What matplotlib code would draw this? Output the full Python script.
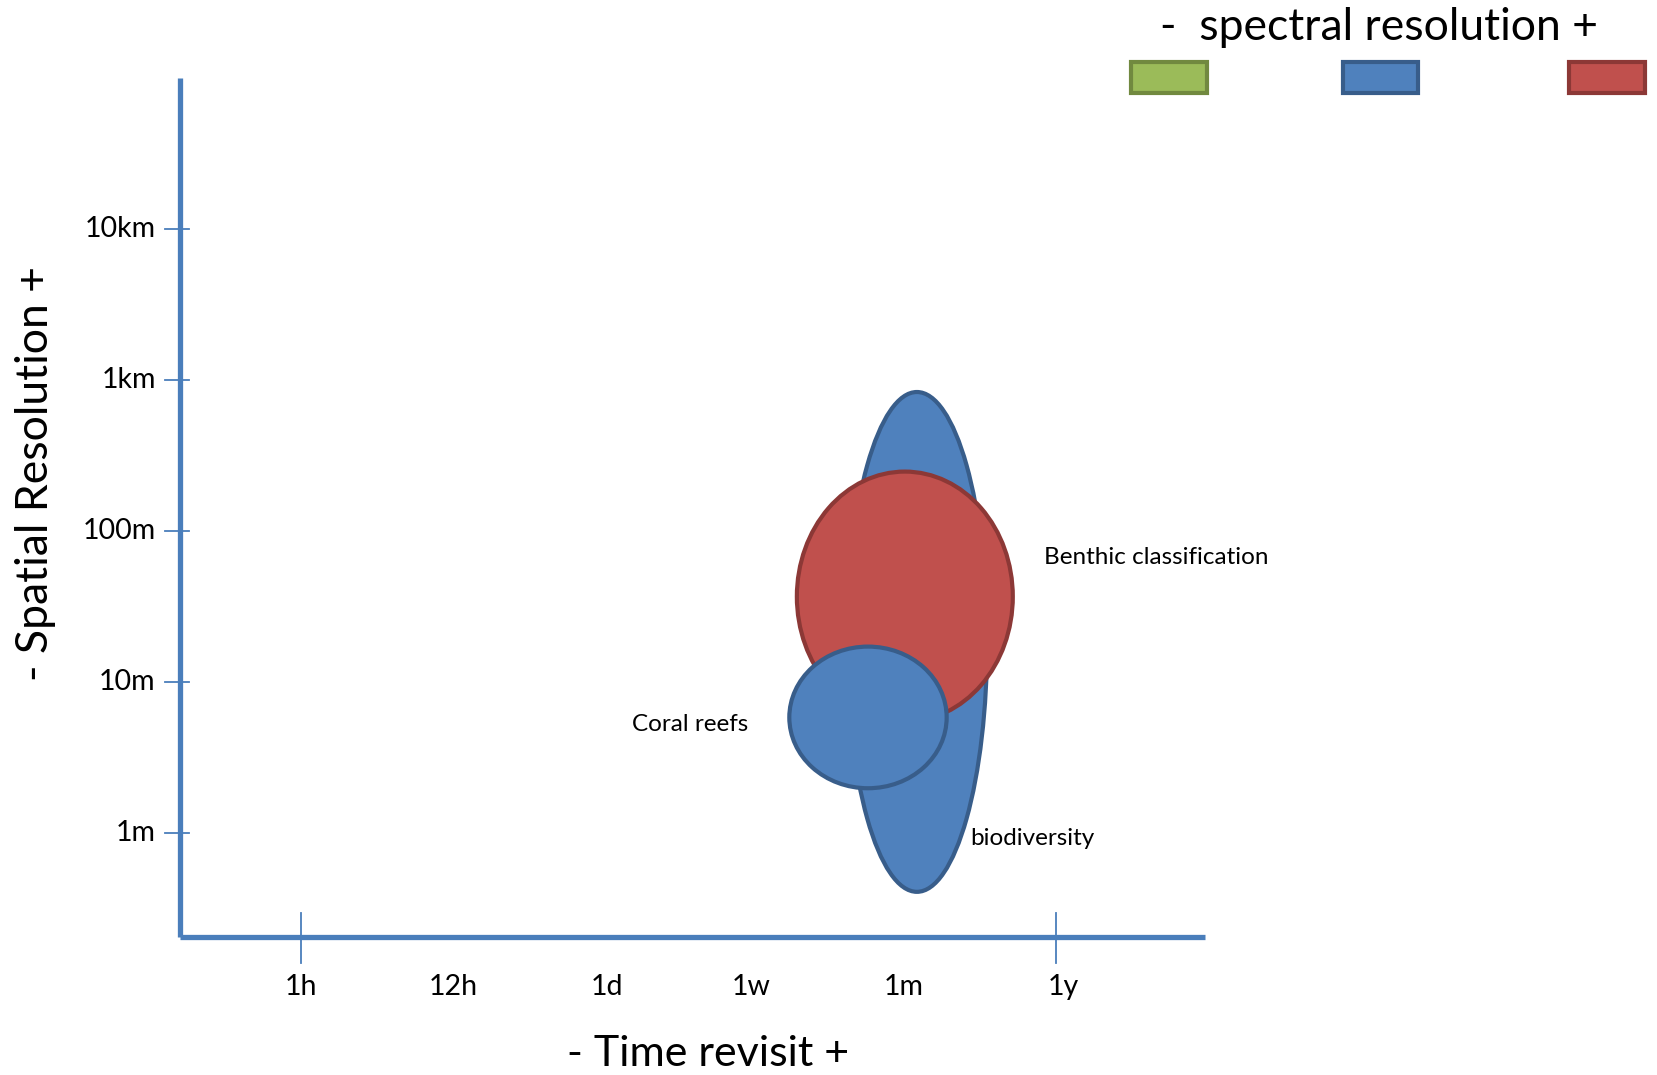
import matplotlib
matplotlib.use("Agg")
import matplotlib.pyplot as plt
from matplotlib.patches import Ellipse, Rectangle

plt.rcParams['font.family'] = ['Lato', 'DejaVu Sans']

# time revisit axis (x), positions in axis units
time_labels = ['1h', '12h', '1d', '1w', '1m', '1y']
time_pos = [0.80, 1.81, 2.83, 3.78, 4.79, 5.85]
time_ticks = [0.80, 5.80]  # only 1h and 1y carry a tick mark

# spatial resolution axis (y), log10 of metres
space_labels = ['1m', '10m', '100m', '1km', '10km']
space_pos = [0, 1, 2, 3, 4]

# applications drawn as ellipses (centre, size in axis units)
apps = ['biodiversity', 'Benthic classification', 'Coral reefs']
app_x = [4.88, 4.80, 4.556]
app_y = [1.264, 1.564, 0.764]
app_w = [0.93, 1.43, 1.042]
app_h = [3.31, 1.656, 0.938]
app_kind = ['blue', 'red', 'blue']

# legend for spectral resolution
spectral = ['green', 'blue', 'red']
fills = {'green': '#9BBB59', 'blue': '#4F81BD', 'red': '#C0504D'}
edges = {'green': '#71893F', 'blue': '#385D8A', 'red': '#8C3836'}
axis_col = '#4A7EBB'

fig = plt.figure(figsize=(16.57, 10.75), dpi=100)
ax = fig.add_axes([0, 0, 1, 1])
ax.set_xlim(-1.192, 9.781)
ax.set_ylim(-1.604, 5.515)
ax.axis('off')

# axes lines
ax.plot([0, 0], [-0.69, 5.0], color=axis_col, lw=3.8, solid_capstyle='butt')
ax.plot([0, 6.79], [-0.69, -0.69], color=axis_col, lw=3.8, solid_capstyle='butt')

for yp, lab in zip(space_pos, space_labels):
    ax.plot([-0.1, 0.06], [yp, yp], color=axis_col, lw=1.3)
    ax.text(-0.16, yp, lab, ha='right', va='center', fontsize=20.5)

for xp in time_ticks:
    ax.plot([xp, xp], [-0.53, -0.86], color=axis_col, lw=1.3)
for xp, lab in zip(time_pos, time_labels):
    ax.text(xp, -1.02, lab, ha='center', va='center', fontsize=20.5)

ax.text(3.50, -1.465, '- Time revisit +', ha='center', va='center', fontsize=31)
ax.text(-0.96, 2.38, '- Spatial Resolution +', ha='center', va='center',
        rotation=90, fontsize=32)

for x, y, w, h, k in zip(app_x, app_y, app_w, app_h, app_kind):
    ax.add_patch(Ellipse((x, y), w, h, facecolor=fills[k], edgecolor=edges[k], lw=3))

ax.text(5.72, 1.82, apps[1], ha='left', va='center', fontsize=17.5)
ax.text(3.76, 0.72, apps[2], ha='right', va='center', fontsize=17.5)
ax.text(5.23, -0.04, apps[0], ha='left', va='center', fontsize=17.5)

# spectral resolution legend
ax.text(7.94, 5.33, '-  spectral resolution +', ha='center', va='center', fontsize=32)
leg_x = [6.30, 7.70, 9.20]
for lx, k in zip(leg_x, spectral):
    ax.add_patch(Rectangle((lx, 4.90), 0.50, 0.205, facecolor=fills[k],
                           edgecolor=edges[k], lw=3))

fig.savefig('out.png', dpi=100)
